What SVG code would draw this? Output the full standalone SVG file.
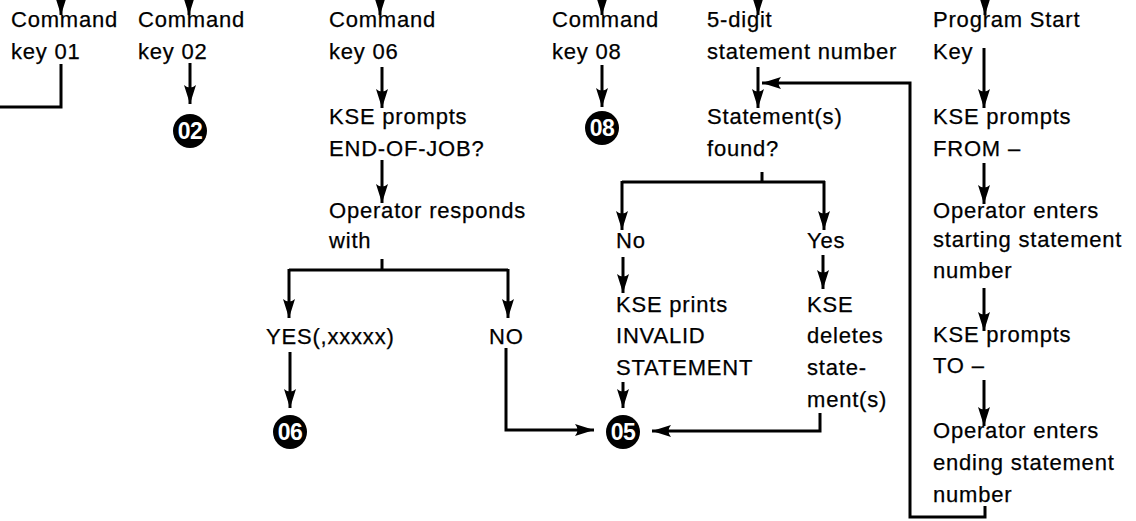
<svg xmlns="http://www.w3.org/2000/svg" width="1136" height="521" viewBox="0 0 1136 521">
  <defs>
    <marker id="head" viewBox="-20 -8 22 16" refX="0" refY="0" markerWidth="22" markerHeight="16" markerUnits="userSpaceOnUse" orient="auto">
      <path d="M0,0 L-19,-6 Q-14,0 -19,6 Z" fill="#000"/>
    </marker>
    <style>
      .t { font-family: "Liberation Sans", Arial, sans-serif; font-size: 22px; letter-spacing: 0.8px; fill: #000; stroke: #000; stroke-width: 0.25; }
      .ln { fill: none; stroke: #000; stroke-width: 3; }
      .ar { fill: none; stroke: #000; stroke-width: 3; marker-end: url(#head); }
      .dot { fill: #000; }
      .num { font-family: "Liberation Sans", Arial, sans-serif; font-size: 23px; font-weight: bold; fill: #fff; text-anchor: middle; letter-spacing: -0.5px; }
    </style>
  </defs>
  <rect width="1136" height="521" fill="#fff"/>

  <!-- connectors -->
  <g id="connectors">
    <!-- entries from above -->
    <path class="ar" d="M61,-12 V15"/>
    <path class="ar" d="M189,-12 V15"/>
    <path class="ar" d="M380,-12 V15"/>
    <path class="ar" d="M602,-12 V15"/>
    <path class="ar" d="M758,-12 V15"/>
    <path class="ar" d="M985,-12 V15"/>
    <!-- command key 01 exit -->
    <path class="ln" d="M61,64 V107 H-4"/>
    <!-- command key 02 -->
    <path class="ar" d="M190,63 V104"/>
    <!-- command key 06 path -->
    <path class="ar" d="M382,67 V108"/>
    <path class="ar" d="M382,160 V203"/>
    <path class="ln" d="M382,259 V270"/>
    <path class="ln" d="M289,270 H508"/>
    <path class="ar" d="M289,269 V318"/>
    <path class="ar" d="M508,269 V318"/>
    <path class="ar" d="M290,352 V408"/>
    <path class="ar" d="M506,348 V430 H594"/>
    <!-- command key 08 -->
    <path class="ar" d="M602,65 V107"/>
    <!-- statement number search -->
    <path class="ar" d="M758,67 V108"/>
    <path class="ln" d="M762,172 V182"/>
    <path class="ln" d="M622,182 H825"/>
    <path class="ar" d="M622,181 V230"/>
    <path class="ar" d="M824,181 V230"/>
    <path class="ar" d="M623,257 V293"/>
    <path class="ar" d="M623,382 V408"/>
    <path class="ar" d="M823,255 V289"/>
    <path class="ar" d="M820,413 V431 H652"/>
    <!-- program start sequence -->
    <path class="ar" d="M984,48 V108"/>
    <path class="ar" d="M984,163 V204"/>
    <path class="ar" d="M984,288 V331"/>
    <path class="ar" d="M984,380 V426"/>
    <path class="ar" d="M985,506 V517 H910 V83 H762"/>
  </g>

  <!-- nodes -->
  <g id="cmd01"><text class="t" x="11" y="27">Command</text><text class="t" x="11" y="59">key 01</text></g>
  <g id="cmd02"><text class="t" x="138" y="27">Command</text><text class="t" x="138" y="59">key 02</text></g>
  <g id="c02"><circle class="dot" cx="190" cy="131" r="17"/><text class="num" x="190" y="139">02</text></g>

  <g id="cmd06"><text class="t" x="329" y="27">Command</text><text class="t" x="329" y="59">key 06</text></g>
  <g id="eoj"><text class="t" x="329" y="124">KSE prompts</text><text class="t" x="329" y="156">END-OF-JOB?</text></g>
  <g id="resp"><text class="t" x="329" y="218">Operator responds</text><text class="t" x="329" y="248">with</text></g>
  <g id="yes6"><text class="t" x="266" y="344">YES(,xxxxx)</text></g>
  <g id="no6"><text class="t" x="489" y="344">NO</text></g>
  <g id="c06"><circle class="dot" cx="290" cy="432" r="17"/><text class="num" x="290" y="440">06</text></g>

  <g id="cmd08"><text class="t" x="552" y="27">Command</text><text class="t" x="552" y="59">key 08</text></g>
  <g id="c08"><circle class="dot" cx="602" cy="128" r="17"/><text class="num" x="602" y="136">08</text></g>

  <g id="stmtno"><text class="t" x="707" y="27">5-digit</text><text class="t" x="707" y="59">statement number</text></g>
  <g id="found"><text class="t" x="707" y="124">Statement(s)</text><text class="t" x="707" y="156">found?</text></g>
  <g id="no5"><text class="t" x="616" y="248">No</text></g>
  <g id="yes5"><text class="t" x="807" y="248">Yes</text></g>
  <g id="invalid"><text class="t" x="616" y="312">KSE prints</text><text class="t" x="616" y="343">INVALID</text><text class="t" x="616" y="375">STATEMENT</text></g>
  <g id="deletes"><text class="t" x="807" y="312">KSE</text><text class="t" x="807" y="343">deletes</text><text class="t" x="807" y="375">state-</text><text class="t" x="807" y="407">ment(s)</text></g>
  <g id="c05"><circle class="dot" cx="623" cy="432" r="17"/><text class="num" x="623" y="440">05</text></g>

  <g id="pstart"><text class="t" x="933" y="27">Program Start</text><text class="t" x="933" y="59">Key</text></g>
  <g id="from"><text class="t" x="933" y="124">KSE prompts</text><text class="t" x="933" y="156">FROM –</text></g>
  <g id="startno"><text class="t" x="933" y="218">Operator enters</text><text class="t" x="933" y="247">starting statement</text><text class="t" x="933" y="278">number</text></g>
  <g id="to"><text class="t" x="933" y="342">KSE prompts</text><text class="t" x="933" y="373">TO –</text></g>
  <g id="endno"><text class="t" x="933" y="438">Operator enters</text><text class="t" x="933" y="470">ending statement</text><text class="t" x="933" y="502">number</text></g>
</svg>
